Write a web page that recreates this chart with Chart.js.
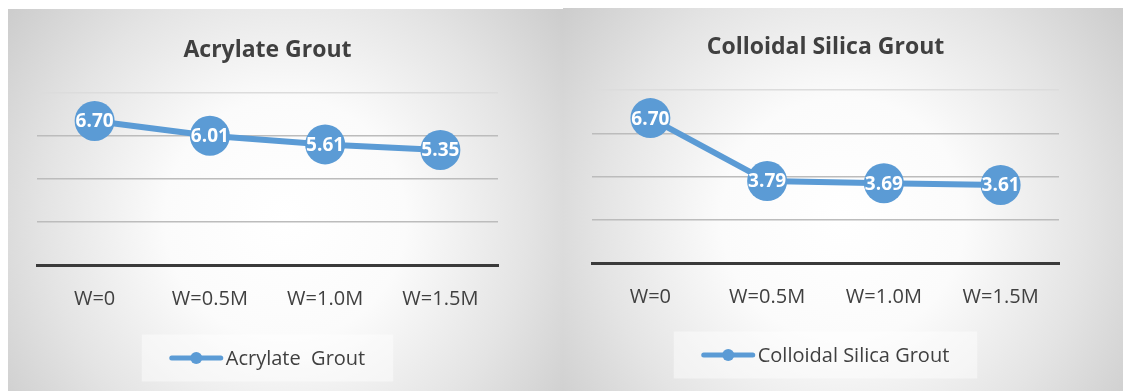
<!DOCTYPE html>
<html>
<head>
<meta charset="utf-8">
<script src="https://cdn.jsdelivr.net/npm/chart.js@4.4.1/dist/chart.umd.min.js"></script>
<style>
  html, body { margin: 0; padding: 0; background: #ffffff; }
  body { width: 1123px; height: 391px; position: relative; overflow: hidden; }
  canvas { position: absolute; display: block; }
  #acrylate { left: 8px; top: 9px; }
  #silica { left: 563px; top: 8px; }
</style>
</head>
<body>
<canvas id="acrylate" width="555" height="382"></canvas>
<canvas id="silica" width="560" height="383"></canvas>
<script>
// Water-pressure cases on the x axis
const categories = ['W=0', 'W=0.5M', 'W=1.0M', 'W=1.5M'];

// Acrylate grout series
const acrylateTitle = 'Acrylate Grout';
const acrylateLegend = 'Acrylate  Grout';
const acrylateValues = [6.70, 6.01, 5.61, 5.35];

// Colloidal silica grout series
const silicaTitle = 'Colloidal Silica Grout';
const silicaLegend = 'Colloidal Silica Grout';
const silicaValues = [6.70, 3.79, 3.69, 3.61];

// Value axis range (ticks are hidden, gridlines every 2)
const yMin = 0, yMax = 8, yStep = 2;

const FONT = "'Open Sans', 'Liberation Sans', sans-serif";
const TEXT = '#404040';
const BLUE = '#5b9bd5';

// Soft radial panel background
const panelBackground = {
  id: 'panelBackground',
  beforeDraw(chart) {
    const { ctx, width, height } = chart;
    ctx.save();
    const g = ctx.createRadialGradient(width * 0.5, height * 0.55, 0, width * 0.5, height * 0.55, width * 0.62);
    g.addColorStop(0, '#ffffff');
    g.addColorStop(0.35, '#fbfbfb');
    g.addColorStop(0.7, '#e4e4e4');
    g.addColorStop(1, '#cdcdcd');
    ctx.fillStyle = g;
    ctx.fillRect(0, 0, width, height);
    ctx.restore();
  }
};

// Chart title centred over the plot area
const plotTitle = {
  id: 'plotTitle',
  afterDraw(chart, args, opts) {
    const { ctx, chartArea } = chart;
    ctx.save();
    ctx.font = `bold 23px ${FONT}`;
    ctx.fillStyle = TEXT;
    ctx.textAlign = 'center';
    ctx.textBaseline = 'middle';
    ctx.fillText(opts.text, (chartArea.left + chartArea.right) / 2, opts.y);
    ctx.restore();
  }
};

// White value labels on each marker
const valueLabels = {
  id: 'valueLabels',
  afterDatasetsDraw(chart) {
    const { ctx } = chart;
    ctx.save();
    ctx.font = `bold 19px ${FONT}`;
    ctx.fillStyle = '#ffffff';
    ctx.textAlign = 'center';
    ctx.textBaseline = 'middle';
    chart.data.datasets.forEach((ds, di) => {
      chart.getDatasetMeta(di).data.forEach((pt, i) => {
        ctx.fillText(Number(ds.data[i]).toFixed(2), pt.x, pt.y + 1);
      });
    });
    ctx.restore();
  }
};

// Legend: line-with-marker swatch and series name in a light box
const lineLegend = {
  id: 'lineLegend',
  afterDraw(chart, args, opts) {
    const { ctx, chartArea } = chart;
    const ds = chart.data.datasets[0];
    ctx.save();
    ctx.font = `20px ${FONT}`;
    const textW = ctx.measureText(ds.label).width;
    const swatch = 53, gap = 3, pad = 28;
    const total = swatch + gap + textW;
    const cx = (chartArea.left + chartArea.right) / 2;
    const x0 = cx - total / 2;
    const cy = opts.y;
    ctx.fillStyle = 'rgba(255,255,255,0.45)';
    ctx.fillRect(x0 - pad, cy - 23.5, total + pad * 2, 47);
    ctx.strokeStyle = ds.borderColor;
    ctx.lineWidth = 5;
    ctx.lineCap = 'round';
    ctx.beginPath();
    ctx.moveTo(x0 + 2, cy);
    ctx.lineTo(x0 + swatch - 2, cy);
    ctx.stroke();
    ctx.fillStyle = ds.borderColor;
    ctx.beginPath();
    ctx.arc(x0 + swatch / 2, cy, 6, 0, Math.PI * 2);
    ctx.fill();
    ctx.fillStyle = TEXT;
    ctx.textAlign = 'left';
    ctx.textBaseline = 'middle';
    ctx.fillText(ds.label, x0 + swatch + gap, cy + 1);
    ctx.restore();
  }
};

function makeChart(id, titleText, legendText, values, layout) {
  return new Chart(document.getElementById(id), {
    type: 'line',
    data: {
      labels: categories,
      datasets: [{
        label: legendText,
        data: values,
        borderColor: BLUE,
        backgroundColor: BLUE,
        borderWidth: 6,
        pointRadius: 20,
        pointHoverRadius: 20,
        pointBackgroundColor: BLUE,
        pointBorderWidth: 0,
        tension: 0,
        clip: false
      }]
    },
    options: {
      responsive: false,
      animation: false,
      devicePixelRatio: 1,
      layout: { padding: { left: layout.left, right: layout.right, top: layout.top, bottom: 0 } },
      plugins: {
        legend: { display: false },
        tooltip: { enabled: false },
        title: { display: false },
        plotTitle: { text: titleText, y: layout.titleY },
        lineLegend: { y: layout.legendY }
      },
      scales: {
        x: {
          offset: true,
          grid: { display: false, drawTicks: false },
          border: { display: true, color: '#3a3a3a', width: 3, z: 1 },
          ticks: { color: TEXT, font: { family: FONT, size: 20 }, padding: 22, maxRotation: 0 },
          afterFit(scale) { scale.height = layout.axisHeight; }
        },
        y: {
          min: yMin,
          max: yMax,
          ticks: { display: false, stepSize: yStep },
          border: { display: false },
          grid: {
            drawTicks: false,
            lineWidth: 1.5,
            color: (c) => c.tick && c.tick.value === yMax ? '#dcdcdc' : (c.tick && c.tick.value === yMin ? 'rgba(0,0,0,0)' : '#bcbcbc')
          },
          afterFit(scale) { scale.width = 0; }
        }
      }
    },
    plugins: [panelBackground, plotTitle, valueLabels, lineLegend]
  });
}

makeChart('acrylate', acrylateTitle, acrylateLegend, acrylateValues,
  { left: 29, right: 65, top: 84, axisHeight: 126, titleY: 41, legendY: 349 });
makeChart('silica', silicaTitle, silicaLegend, silicaValues,
  { left: 29, right: 64, top: 82, axisHeight: 128, titleY: 39, legendY: 347 });
</script>
</body>
</html>
